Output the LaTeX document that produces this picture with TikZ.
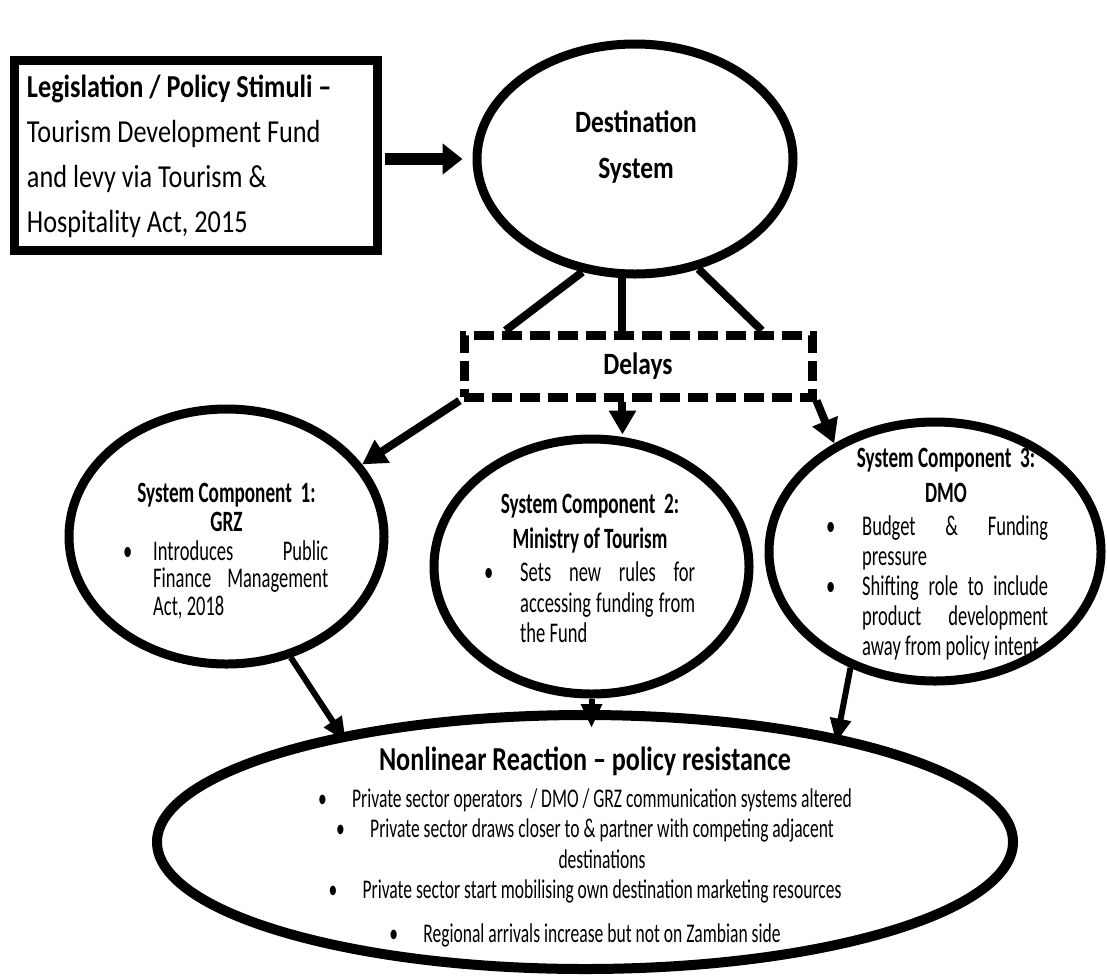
\documentclass[tikz,border=0pt]{standalone}
\usepackage{fontspec}
\setmainfont{Carlito}[FakeStretch=0.82]
\newfontfamily\narrowfont{Carlito}[FakeStretch=0.65, Ligatures=TeX]
\newfontfamily\midfont{Carlito}[FakeStretch=0.78, Ligatures=TeX]
\usetikzlibrary{arrows.meta,shapes.geometric}

% justified bullet text with very wide spaces, no hyphenation
\tolerance=10000
\hbadness=10000
\hyphenpenalty=10000

% bullets and a fixed first-line height for the text blocks
\newcommand{\tstrut}{\vrule width 0pt height 0.8em\relax}
\newcommand{\dotbox}[1]{\makebox[#1][l]{\textbullet}}
\newcommand{\blt}[1]{\noindent\llap{\dotbox{#1}}}

\begin{document}
\begin{tikzpicture}[x=1pt, y=-1pt,
    stimbox/.style={rectangle, draw, line width=9pt, inner sep=0pt,
        minimum width=363pt, minimum height=190pt, text width=338pt, align=flush left,
        font=\fontsize{32}{45}\selectfont},
    blob/.style={ellipse, draw, line width=9pt, inner sep=0pt},
    delaybox/.style={rectangle, draw, line width=9pt, dash pattern=on 20pt off 8pt,
        inner sep=0pt, minimum width=348pt, minimum height=62pt,
        font=\fontsize{31}{40}\selectfont\bfseries},
    heading/.style={inner sep=0pt, anchor=north, align=center,
        font=\fontsize{31}{46}\selectfont\bfseries},
    comptitle/.style={inner sep=0pt, anchor=north, align=center,
        font=\narrowfont\fontsize{29.5}{#1}\selectfont\bfseries},
    comptitle/.default=35,
    comptext/.style={inner sep=0pt, anchor=north west, align=justify,
        font=\narrowfont\fontsize{28.5}{#1}\selectfont},
    comptext/.default=30.5,
    link/.style={line width=8pt},
    bigarrow/.style={line width=12pt, -{Triangle[length=20pt,width=30pt]}},
    arrow/.style={line width=8pt, -{Triangle[length=24pt,width=26pt]}},
    downarrow/.style={line width=6pt, -{Triangle[length=24pt,width=20pt]}}
]
\fill[white] (0,0) rectangle (1107,975);
\useasboundingbox (0,0) rectangle (1107,975);

% policy input and the destination system
\node[stimbox] (stim) at (196,155) {\tstrut\textbf{Legislation / Policy Stimuli --}\\ Tourism Development Fund\\ and levy via Tourism \&\\ Hospitality Act, 2015};
\node[blob, minimum width=316pt, minimum height=230pt] (dest) at (635,159) {};
\node[heading] (desttxt) at (636,107.2) {\tstrut Destination\\System};

\node[delaybox] (delay) at (638,366) {Delays};

% the three components
\node[blob, minimum width=315pt, minimum height=255pt] (c1) at (226.5,536.5) {};
\node[blob, minimum width=315pt, minimum height=255pt] (c2) at (591.5,566.5) {};
\node[blob, minimum width=332pt, minimum height=259pt] (c3) at (935,551.5) {};

\node[comptitle=29] (c1head) at (226.5,478.4) {\tstrut System Component\ \ 1:\\GRZ};
\node[comptext=27.5, text width=175pt] (c1txt) at (153,540) {\blt{30pt}Introduces Public\linebreak Finance Management\linebreak Act, 2018};

\node[comptitle] (c2head) at (590,489.4) {\tstrut System Component\ \ 2:\\Ministry of Tourism};
\node[comptext, text width=175pt] (c2txt) at (520,561.5) {\blt{36pt}Sets new rules for\linebreak accessing funding from\linebreak the Fund};

\node[comptitle] (c3head) at (946,443.4) {\tstrut System Component\ \ 3:\\DMO};
\node[comptext=30, text width=186pt] (c3txt) at (862,515) {\blt{36pt}Budget \& Funding\linebreak pressure\par
    \blt{36pt}Shifting role to include\linebreak product development\linebreak away from policy intent};

% reaction
\node[blob, line width=10pt, minimum width=856pt, minimum height=254pt] (bottom) at (585,842) {};
\node[inner sep=0pt, anchor=north, font=\midfont\fontsize{33.5}{40}\selectfont\bfseries] (reacthead) at (585,743.2) {\tstrut Nonlinear Reaction -- policy resistance};
\node[inner sep=0pt, anchor=north, align=center, font=\narrowfont\fontsize{27}{30.5}\selectfont] (reacttxt) at (585,785.4) {\tstrut\dotbox{34pt}Private sector operators\ \ / DMO / GRZ communication systems altered\\
    \dotbox{34pt}Private sector draws closer to \& partner with competing adjacent\\
    \hspace*{34pt}destinations\\
    \dotbox{34pt}Private sector start mobilising own destination marketing resources\\[13.5pt]
    \dotbox{34pt}Regional arrivals increase but not on Zambian side};

% connectors
\draw[bigarrow, shorten <=3pt, shorten >=10pt] (stim.east |- dest.west) -- (dest.west);
\draw[link] (dest.-115) -- (delay.165);
\draw[link] (dest.-96.5) -- (dest.-96.5 |- delay.north);
\draw[link] (dest.-60) -- (delay.16);
\draw[arrow] (delay.-169) -- (c1.28);
\draw[arrow] (dest.-96.5 |- delay.south) -- (dest.-96.5 |- c2.north);
\draw[arrow] (delay.-11) -- (c3.133);
\draw[downarrow, shorten >=-10pt] (c1.-62) -- (bottom.156);
\draw[downarrow, shorten >=-18pt] (c2.south) -- (c2.south |- bottom.north);
\draw[downarrow, shorten >=-8pt] (c3.-126) -- (bottom.23);
\end{tikzpicture}
\end{document}
